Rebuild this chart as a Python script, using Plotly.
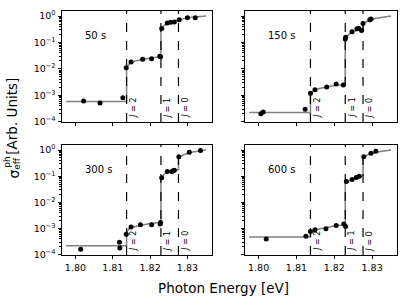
import plotly.graph_objects as go

# ---------------- data ----------------
panel_labels = ["50 s", "150 s", "300 s", "600 s"]
j_energies = [1.8137, 1.8229, 1.8276]
j_labels = ["<i>J</i> = 2", "<i>J</i> = 1", "<i>J</i> = 0"]

pts_x_50 = [1.8022, 1.8066, 1.8127, 1.8136, 1.8149, 1.8180, 1.8204, 1.8226, 1.8228,
            1.8231, 1.8246, 1.8255, 1.8265, 1.8278, 1.8300, 1.8321]
pts_y_50 = [6.0e-4, 5.1e-4, 8.0e-4, 1.1e-2, 1.8e-2, 2.3e-2, 2.4e-2, 3.0e-2, 2.9e-2,
            0.34, 0.55, 0.58, 0.60, 0.73, 0.87, 0.87]

pts_x_150 = [1.8006, 1.8012, 1.8123, 1.8137, 1.8149, 1.8180, 1.8205, 1.8224,
             1.8229, 1.8230, 1.8247, 1.8260, 1.8265, 1.8272, 1.8276, 1.8294, 1.8297]
pts_y_150 = [2.0e-4, 2.3e-4, 2.95e-4, 1.2e-3, 1.6e-3, 2.05e-3, 2.65e-3, 2.45e-3,
             0.135, 0.158, 0.256, 0.33, 0.34, 0.285, 0.52, 0.73, 0.78]

pts_x_300 = [1.8014, 1.8118, 1.8119, 1.8136, 1.8149, 1.8174, 1.8204, 1.8227, 1.8228,
             1.8231, 1.8246, 1.8258, 1.8262, 1.8265, 1.8277, 1.8305, 1.8335]
pts_y_300 = [1.6e-4, 3.0e-4, 1.8e-4, 6.0e-4, 1.15e-3, 1.38e-3, 1.38e-3, 1.5e-3, 1.7e-3,
             0.087, 0.15, 0.15, 0.16, 0.17, 0.55, 0.82, 0.97]

pts_x_600 = [1.8020, 1.8125, 1.8137, 1.8149, 1.8178, 1.8205, 1.8225, 1.8230,
             1.8232, 1.8247, 1.8258, 1.8266, 1.8278, 1.8297, 1.8310]
pts_y_600 = [4.0e-4, 5.1e-4, 7.7e-4, 8.9e-4, 9.8e-4, 1.3e-3, 1.5e-3, 1.2e-3,
             0.063, 0.075, 0.089, 0.10, 0.55, 0.75, 0.89]

fit_x = [1.7975, 1.8137, 1.8137, 1.8145, 1.8160, 1.8180, 1.8200, 1.8229,
         1.8229, 1.8238, 1.8250, 1.8265, 1.8276, 1.8276, 1.8290, 1.8310, 1.8350]
fit_y_50 = [5.8e-4, 5.8e-4, 1.1e-2, 1.6e-2, 2.0e-2, 2.3e-2, 2.6e-2, 2.9e-2,
            0.30, 0.45, 0.55, 0.62, 0.66, 0.70, 0.80, 0.90, 1.0]
fit_y_150 = [2.2e-4, 2.2e-4, 1.1e-3, 1.45e-3, 1.8e-3, 2.1e-3, 2.35e-3, 2.55e-3,
             0.13, 0.20, 0.26, 0.30, 0.32, 0.50, 0.68, 0.82, 1.0]
fit_y_300 = [2.2e-4, 2.2e-4, 7.5e-4, 1.0e-3, 1.2e-3, 1.4e-3, 1.55e-3, 1.7e-3,
             0.08, 0.12, 0.15, 0.17, 0.18, 0.50, 0.66, 0.82, 1.0]
fit_y_600 = [4.7e-4, 4.7e-4, 7.5e-4, 8.5e-4, 9.5e-4, 1.1e-3, 1.25e-3, 1.4e-3,
             0.055, 0.065, 0.078, 0.095, 0.105, 0.50, 0.68, 0.82, 1.0]

x_tickvals = [1.80, 1.81, 1.82, 1.83]
x_ticktext = ["1.80", "1.81", "1.82", "1.83"]
y_tickvals = [1e-4, 1e-3, 1e-2, 1e-1, 1e0]
y_ticktext = ["10<sup>\u22124</sup>", "10<sup>\u22123</sup>", "10<sup>\u22122</sup>",
              "10<sup>\u22121</sup>", "10<sup>0</sup>"]

points = [(pts_x_50, pts_y_50), (pts_x_150, pts_y_150),
          (pts_x_300, pts_y_300), (pts_x_600, pts_y_600)]
fits = [fit_y_50, fit_y_150, fit_y_300, fit_y_600]

# ---------------- layout ----------------
W, H = 407, 306
FONT = "DejaVu Sans"
xdom = [[62 / W, 211.7 / W], [245 / W, 396.7 / W]]
ydom = [[1 - 123.3 / H, 1 - 10 / H], [1 - 259 / H, 1 - 146.7 / H]]
xrange_ = [1.7964, 1.8365]
yrange_ = [-4.01, 0.2]

fig = go.Figure()
layout = dict(
    width=W, height=H, margin=dict(l=0, r=0, t=0, b=0),
    plot_bgcolor="white", paper_bgcolor="white", showlegend=False,
    font=dict(family=FONT, size=10, color="black"),
)
shapes = []
annotations = []

for i in range(4):
    r, c = divmod(i, 2)
    n = i + 1
    xa = "x" if n == 1 else f"x{n}"
    ya = "y" if n == 1 else f"y{n}"
    xkey = "xaxis" if n == 1 else f"xaxis{n}"
    ykey = "yaxis" if n == 1 else f"yaxis{n}"

    fig.add_trace(go.Scatter(x=fit_x, y=fits[i], mode="lines",
                             line=dict(color="#808080", width=1.5),
                             xaxis=xa, yaxis=ya, hoverinfo="skip"))
    fig.add_trace(go.Scatter(x=points[i][0], y=points[i][1], mode="markers",
                             marker=dict(color="black", size=5),
                             xaxis=xa, yaxis=ya))

    layout[xkey] = dict(
        domain=xdom[c], anchor=ya, range=xrange_,
        showline=True, linecolor="black", linewidth=1, mirror=True,
        ticks="outside", ticklen=3.5, tickcolor="black", tickwidth=1,
        tickmode="array", tickvals=x_tickvals, ticktext=x_ticktext,
        showticklabels=(r == 1),
        tickfont=dict(family=FONT, size=9.5),
        showgrid=False, zeroline=False,
    )
    layout[ykey] = dict(
        domain=ydom[r], anchor=xa, type="log", range=yrange_,
        showline=True, linecolor="black", linewidth=1, mirror=True,
        ticks="outside", ticklen=3.5, tickcolor="black", tickwidth=1,
        tickmode="array", tickvals=y_tickvals, ticktext=y_ticktext,
        showticklabels=(c == 0),
        tickfont=dict(family=FONT, size=9.5),
        minor=dict(ticks="outside", ticklen=2, tickcolor="black",
                   dtick="D1", showgrid=False),
        showgrid=False, zeroline=False,
    )

    for e, lab in zip(j_energies, j_labels):
        shapes.append(dict(type="line", xref=xa, yref=f"{ya} domain",
                           x0=e, x1=e, y0=0, y1=1,
                           line=dict(color="black", width=1.2, dash="dash")))
        annotations.append(dict(x=e + 0.0018, y=-3.5, xref=xa, yref=ya,
                                text=lab, showarrow=False, textangle=-90,
                                font=dict(family=FONT, size=8, color="black"),
                                xanchor="center", yanchor="middle"))

    annotations.append(dict(x=1.8019, y=-0.74, xref=xa, yref=ya,
                            text=panel_labels[i], showarrow=False,
                            font=dict(family=FONT, size=10),
                            xanchor="left", yanchor="middle"))

# axis titles
annotations.append(dict(x=223 / W, y=1 - 293 / H, xref="paper", yref="paper",
                        text="Photon Energy [eV]", showarrow=False,
                        font=dict(family=FONT, size=13.5),
                        xanchor="center", yanchor="middle"))
annotations.append(dict(x=12 / W, y=1 - 118 / H, xref="paper", yref="paper",
                        text="[Arb. Units]", showarrow=False, textangle=-90,
                        font=dict(family=FONT, size=13.5),
                        xanchor="center", yanchor="middle"))
annotations.append(dict(x=14 / W, y=1 - 177 / H, xref="paper", yref="paper",
                        text="\u03c3", showarrow=False, textangle=-90,
                        font=dict(family=FONT, size=14),
                        xanchor="center", yanchor="middle"))
annotations.append(dict(x=7 / W, y=1 - 165 / H, xref="paper", yref="paper",
                        text="ph", showarrow=False, textangle=-90,
                        font=dict(family=FONT, size=9),
                        xanchor="center", yanchor="middle"))
annotations.append(dict(x=17 / W, y=1 - 166 / H, xref="paper", yref="paper",
                        text="eff", showarrow=False, textangle=-90,
                        font=dict(family=FONT, size=9),
                        xanchor="center", yanchor="middle"))

layout["shapes"] = shapes
layout["annotations"] = annotations
fig.update_layout(**layout)
fig.write_html("out.html",
               config={"displayModeBar": False},
               post_script="document.body.style.margin='0px';"
                           "document.body.style.overflow='hidden';")
